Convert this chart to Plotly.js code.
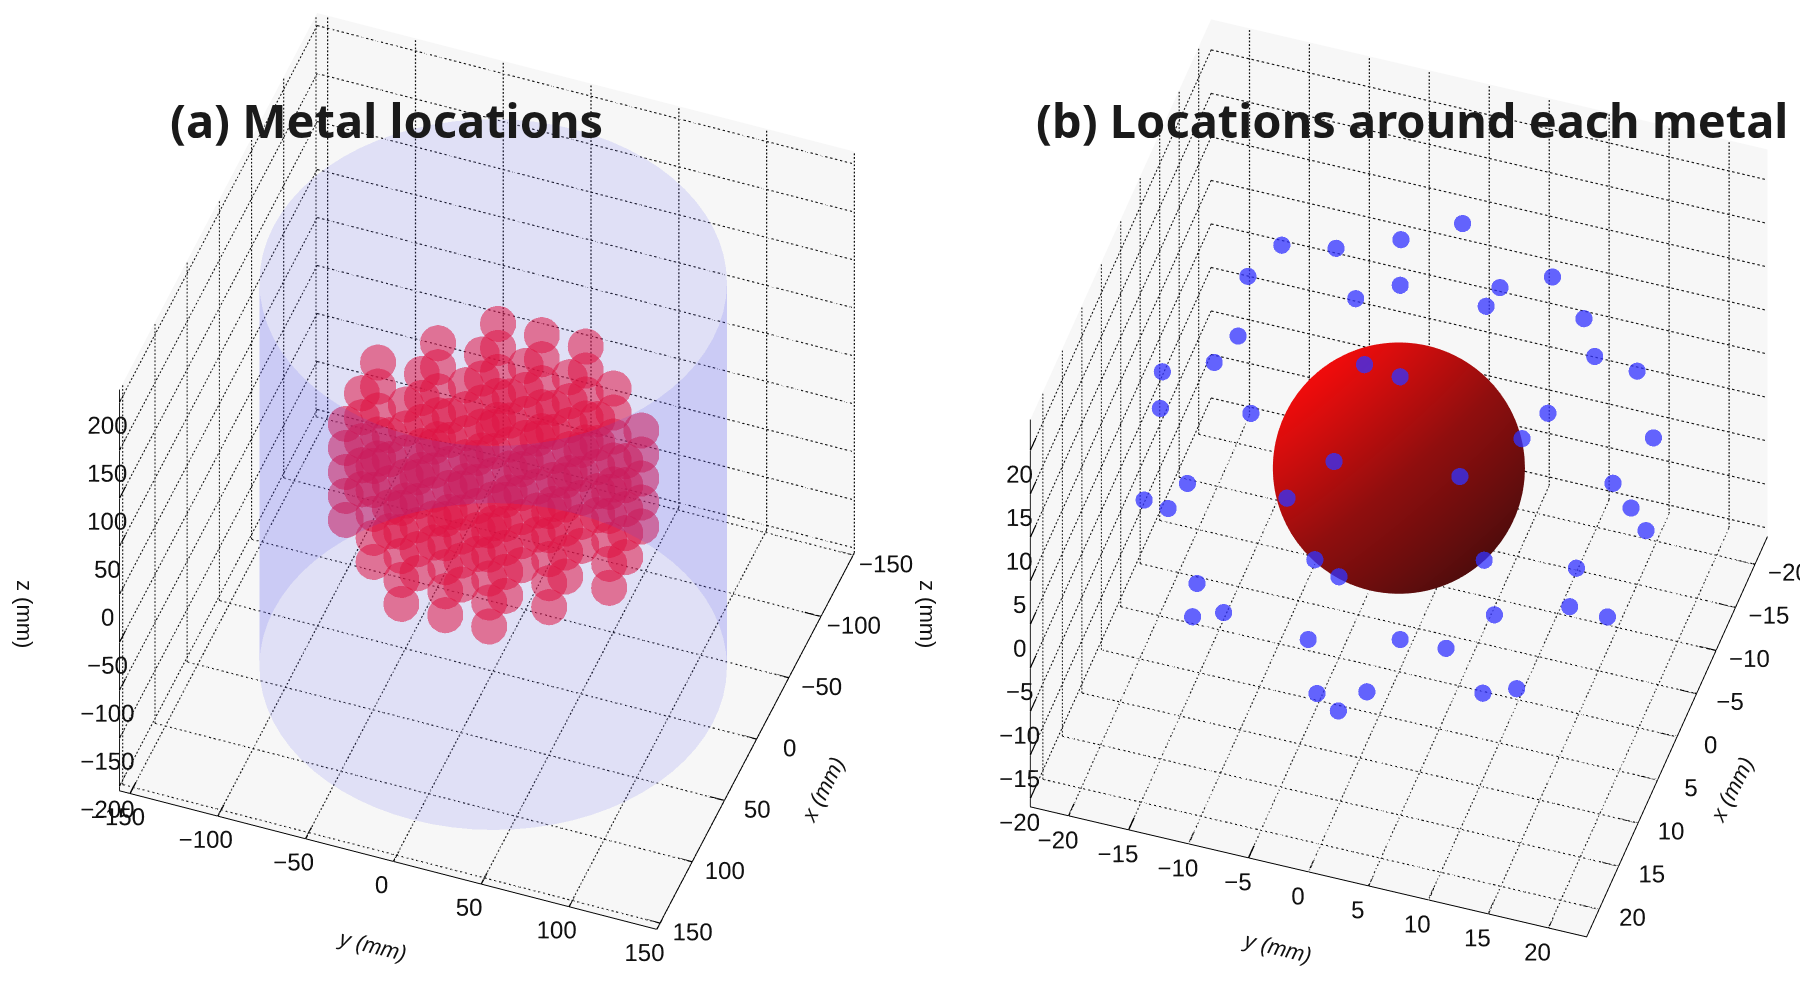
<!DOCTYPE html>
<html><head><meta charset="utf-8">
<script src="https://cdn.plot.ly/plotly-3.0.1.min.js"></script>
<style>html,body{margin:0;padding:0;background:#fff}#c{width:1800px;height:1000px}</style></head>
<body><div id="c"></div>
<script>
// ---------- panel (a) ----------
const aTicksXY = [-150,-100,-50,0,50,100,150];
const aTicksZ  = [-200,-150,-100,-50,0,50,100,150,200];
const aRangeX = [-152,155], aRangeY = [-156,150], aRangeZ = [-205,213];
const cylinderRadius = 125, cylinderZ = [-200,200];
// one layer of the metal lattice (x, y) in mm
const latticeX = [-75,-75,-75,-50,-50,-50,-50,-50,-25,-25,-25,-25,-25,-25,-25,0,0,0,0,0,0,0,25,25,25,25,25,25,25,50,50,50,50,50,75,75,75];
const latticeY = [-25,0,25,-50,-25,0,25,50,-75,-50,-25,0,25,50,75,-75,-50,-25,0,25,50,75,-75,-50,-25,0,25,50,75,-50,-25,0,25,50,-25,0,25];
const latticeLayersZ = [-50,-25,0,25,50];
// ---------- panel (b) ----------
const bTicks = [-20,-15,-10,-5,0,5,10,15,20];
const bRangeXY = [-23.2,23.2], bRangeZ = [-21,23.5];
const sphereRadius = 10, sphereCenterZ = 2.4;
const aroundX = [-20.3,-17.1,-14.6,-13.6,-9.5,-12.3,-9.8,-14.5,-12.2,-16.9,-13.3,-9.6,-9.1,-3,0.35,2.6,6.5,4.8,-2.5,-2.5,3.25,5.4,7.4,13.7,16.5,16.8,
                 4.45,0.55,0.95,11.45,9.95,16.45,20.4,21.6,16.3,
                 -5.2,5.7,9.3,8.1,-1,-0.85,1.7,8.85,6.6,6.4,14.3,12.9,15.6,10.2,8.9];
const aroundY = [-1.3,-5.4,-10,-14.2,-15.7,-3.9,-6.8,3.7,3.3,7.3,11.1,13.2,16.9,-14.4,-15.3,-18.9,-17.8,-10.8,11.6,20.4,18.9,21.1,23,-13.2,-15.9,-13.8,
                 11.7,-2.7,0.4,-1.7,8.3,-4,-0.4,2,12.4,
                 13.1,-15,-14.2,-12,13.9,17.1,8.5,-4.7,2.24,6,-2.2,1.5,0,10.3,12.7];
const aroundZ = [10,10,10,10,10,10,10,10,10,10,10,10,10,10,10,10,10,10,10,10,10,10,10,10,10,10,
                 14,14,14,14,14,14,12,12,12,
                 -10,-10,-10,-10,-10,-10,-10,-10,-10,-10,-10,-10,-10,-10,-10];
// ---------- titles ----------
const titleA = "(a) Metal locations", titleB = "(b) Locations around each metal";
const xTitle = "x (mm)", yTitle = "y (mm)", zTitle = "z (mm)";

function wallGrid(tx,ty,tz,rx,ry,rz,scene,n){
  const X=[],Y=[],Z=[];
  const seg=(a,b)=>{for(let i=0;i<n;i++){const t0=i/n,t1=(i+0.5)/n;
    X.push(a[0]+(b[0]-a[0])*t0,a[0]+(b[0]-a[0])*t1,null);
    Y.push(a[1]+(b[1]-a[1])*t0,a[1]+(b[1]-a[1])*t1,null);
    Z.push(a[2]+(b[2]-a[2])*t0,a[2]+(b[2]-a[2])*t1,null);}};
  tz.forEach(z=>{seg([rx[0],ry[0],z],[rx[0],ry[1],z]);seg([rx[0],ry[0],z],[rx[1],ry[0],z]);});
  ty.forEach(y=>{seg([rx[0],y,rz[0]],[rx[0],y,rz[1]]);seg([rx[0],y,rz[0]],[rx[1],y,rz[0]]);});
  tx.forEach(x=>{seg([x,ry[0],rz[0]],[x,ry[0],rz[1]]);seg([x,ry[0],rz[0]],[x,ry[1],rz[0]]);});
  return {type:'scatter3d',mode:'lines',x:X,y:Y,z:Z,scene,connectgaps:false,hoverinfo:'skip',showlegend:false,
          line:{color:'#111',width:2.5}};
}
// short tick marks on the edges that carry the labels
function edgeTicks(tx,ty,tz,rx,ry,rz,scene){
  const X=[],Y=[],Z=[],dx=(rx[1]-rx[0])*0.03,dy=(ry[1]-ry[0])*0.03;
  const seg=(a,b)=>{X.push(a[0],b[0],null);Y.push(a[1],b[1],null);Z.push(a[2],b[2],null);};
  ty.forEach(y=>seg([rx[1],y,rz[0]],[rx[1]-dx,y,rz[0]]));
  tx.forEach(x=>seg([x,ry[1],rz[0]],[x,ry[1]-dy,rz[0]]));
  tz.forEach(z=>seg([rx[1],ry[0],z],[rx[1]-dx,ry[0],z]));
  return {type:'scatter3d',mode:'lines',x:X,y:Y,z:Z,scene,connectgaps:false,hoverinfo:'skip',showlegend:false,line:{color:'#000',width:3}};
}
function axis(ticks,range){
  return {title:{text:''},range,autorange:false,
    tickmode:'array',tickvals:ticks,ticktext:ticks.map(t=>String(t).replace('-','\u2212')),tickangle:0,
    tickfont:{family:'Liberation Sans',size:17,color:'#111'},
    showgrid:false,zeroline:false,showspikes:false,showline:true,linecolor:'#000',linewidth:2,
    ticks:'outside',ticklen:17,tickcolor:'rgba(0,0,0,0)',tickwidth:1,
    showbackground:true,backgroundcolor:'#f7f7f7'};
}
// cylinder wall
const cx=[],cy=[],cz=[];
[cylinderZ[0],cylinderZ[1]].forEach(z=>{const rx=[],ry=[],rz=[];
  for(let i=0;i<=72;i++){const t=i/72*2*Math.PI;rx.push(cylinderRadius*Math.cos(t));ry.push(cylinderRadius*Math.sin(t));rz.push(z);}
  cx.push(rx);cy.push(ry);cz.push(rz);});
const flat={ambient:1,diffuse:0,specular:0,roughness:1,fresnel:0};
const cylinder={type:'surface',scene:'scene',x:cx,y:cy,z:cz,showscale:false,opacity:0.13,hoverinfo:'skip',
  colorscale:[[0,'#4444ee'],[1,'#4444ee']],lighting:flat,contours:{x:{show:false},y:{show:false},z:{show:false}}};
// metals
const mx=[],my=[],mz=[];
latticeLayersZ.forEach(z=>latticeX.forEach((x,i)=>{mx.push(x);my.push(latticeY[i]);mz.push(z);}));
const metals={type:'scatter3d',mode:'markers',scene:'scene',x:mx,y:my,z:mz,hoverinfo:'skip',
  marker:{size:21,color:'rgb(245,10,40)',opacity:0.53,line:{width:0}}};
// sphere
const sx=[],sy=[],sz=[],sc=[];const L=[-0.25,-0.71,0.53];
for(let i=0;i<=60;i++){const th=i/60*Math.PI;const ax=[],ay=[],az=[],ac=[];
  for(let j=0;j<=90;j++){const ph=j/90*2*Math.PI;const n=[Math.sin(th)*Math.cos(ph),Math.sin(th)*Math.sin(ph),Math.cos(th)];
    ax.push(sphereRadius*n[0]);ay.push(sphereRadius*n[1]);az.push(sphereCenterZ+sphereRadius*n[2]);ac.push(n[0]*L[0]+n[1]*L[1]+n[2]*L[2]);}
  sx.push(ax);sy.push(ay);sz.push(az);sc.push(ac);}
const sphere={type:'surface',scene:'scene2',x:sx,y:sy,z:sz,surfacecolor:sc,cmin:-1,cmax:1,showscale:false,hoverinfo:'skip',
  colorscale:[[0,'#4a0c0c'],[0.5,'#900e0e'],[1,'#f80c0c']],lighting:flat,contours:{x:{show:false},y:{show:false},z:{show:false}}};
const around={type:'scatter3d',mode:'markers',scene:'scene2',x:aroundX,y:aroundY,z:aroundZ,hoverinfo:'skip',
  marker:{size:10,color:'rgb(50,50,255)',opacity:0.75,line:{width:0}}};

function cam(el,az,dx,dy,K){const e=el*Math.PI/180,a=az*Math.PI/180,r=2;
  const R=[-Math.sin(a),Math.cos(a),0],U=[-Math.sin(e)*Math.cos(a),-Math.sin(e)*Math.sin(a),Math.cos(e)];
  const c=[0,1,2].map(i=>-(dx*R[i]+dy*U[i])/K);
  return {eye:{x:c[0]+r*Math.cos(e)*Math.cos(a),y:c[1]+r*Math.cos(e)*Math.sin(a),z:c[2]+r*Math.sin(e)},up:{x:0,y:0,z:1},
          center:{x:c[0],y:c[1],z:c[2]},projection:{type:'orthographic'}};}
const note=(text,x,y,angle,size,weight)=>({text,xref:'paper',yref:'paper',x:x/1800,y:1-y/1000,xanchor:'center',yanchor:'middle',showarrow:false,textangle:angle,
  font:{family:weight?'Noto Sans':'Liberation Sans',size,color:weight?'#1a1a1a':'#111',weight:weight||400}});
const it=s=>'<i>'+s+'</i>';

const layout={width:1800,height:1000,margin:{l:0,r:0,t:0,b:0},paper_bgcolor:'#fff',showlegend:false,
  scene:{domain:{x:[0,955/1800],y:[0,1]},aspectmode:'manual',aspectratio:{x:1.145,y:1.145,z:1.125},camera:cam(44.5,20.2,9.5,29,503),
    xaxis:axis(aTicksXY,aRangeX),yaxis:axis(aTicksXY,aRangeY),zaxis:axis(aTicksZ,aRangeZ)},
  scene2:{domain:{x:[960/1800,1],y:[0,1]},aspectmode:'manual',aspectratio:{x:1.17,y:1.17,z:1.115},camera:cam(46,18,19,22,503),
    xaxis:axis(bTicks,bRangeXY),yaxis:axis(bTicks,bRangeXY),zaxis:axis(bTicks,bRangeZ)},
  annotations:[
   note(titleA,386,120,0,47,700), note(titleB,1412,120,0,47,700),
   note(it(yTitle),372,945,14,22), note(it(xTitle),822,790,-63,22), note(zTitle,25,614,90,22),
   note(it(yTitle),1277,947,14,22), note(it(xTitle),1731,790,-63,22), note(zTitle,928,614,90,22)
  ]};
Plotly.newPlot('c',[wallGrid(aTicksXY,aTicksXY,aTicksZ,aRangeX,aRangeY,aRangeZ,'scene',110),edgeTicks(aTicksXY,aTicksXY,aTicksZ,aRangeX,aRangeY,aRangeZ,'scene'),metals,cylinder,
  wallGrid(bTicks,bTicks,bTicks,bRangeXY,bRangeXY,bRangeZ,'scene2',110),edgeTicks(bTicks,bTicks,bTicks,bRangeXY,bRangeXY,bRangeZ,'scene2'),sphere,around],layout,{displayModeBar:false});
</script></body></html>
